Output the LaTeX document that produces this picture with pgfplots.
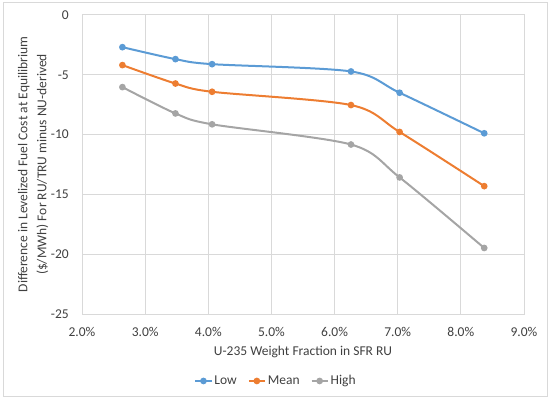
\documentclass[border=0pt]{standalone}
\usepackage{fontspec}
\setmainfont{Carlito}
\usepackage{pgfplots}
\pgfplotsset{compat=1.18}
\definecolor{cLow}{HTML}{5B9BD5}
\definecolor{cMean}{HTML}{ED7D31}
\definecolor{cHigh}{HTML}{A5A5A5}
\definecolor{gridc}{HTML}{D9D9D9}
\definecolor{txt}{HTML}{404040}
\begin{document}
\fontsize{13.5bp}{16bp}\selectfont
\begin{tikzpicture}
\path[use as bounding box] (0,0) rectangle (550bp,400bp);
\draw[gridc, line width=1bp] (3bp,3bp) rectangle (547bp,397bp);
\begin{axis}[
  at={(82bp,86bp)}, anchor=south west,
  scale only axis, width=442bp, height=299bp,
  xmin=2, xmax=9, ymin=-25, ymax=0,
  xtick={2,3,4,5,6,7,8,9},
  xticklabels={2.0\%,3.0\%,4.0\%,5.0\%,6.0\%,7.0\%,8.0\%,9.0\%},
  ytick={-25,-20,-15,-10,-5,0},
  yticklabels={-25,-20,-15,-10,-5,0},
  major tick length=0pt,
  grid=major,
  major grid style={gridc, line width=1bp},
  axis line style={gridc, line width=1bp},
  tick label style={font=\fontsize{13.5bp}{16bp}\selectfont, text=txt},
  xticklabel style={anchor=north, inner sep=0pt, yshift=-13bp},
  yticklabel style={anchor=east, inner sep=0pt, xshift=-13bp},
  legend style={at={(0.439,-0.224)}, anchor=center, draw=none, fill=none,
    legend columns=-1, font=\fontsize{13.5bp}{16bp}\selectfont, text=txt,
    /tikz/every even column/.append style={column sep=9bp}},
  legend cell align=left,
  legend image code/.code={
    \draw[#1, mark repeat=2, mark phase=2] plot coordinates {(0bp,0bp) (8bp,0bp) (16bp,0bp)};
  },
  every axis plot/.append style={line width=2bp, mark=*, mark size=2.3bp, smooth, tension=0.5},
  clip=false,
]
\addplot[cLow, mark options={fill=cLow, draw=cLow}] coordinates {
  (2.64,-2.69) (3.48,-3.69) (4.06,-4.11) (6.26,-4.72) (7.03,-6.50) (8.37,-9.89)};
\addlegendentry{Low}
\addplot[cMean, mark options={fill=cMean, draw=cMean}] coordinates {
  (2.64,-4.19) (3.48,-5.73) (4.06,-6.42) (6.26,-7.53) (7.03,-9.78) (8.37,-14.31)};
\addlegendentry{Mean}
\addplot[cHigh, mark options={fill=cHigh, draw=cHigh}] coordinates {
  (2.64,-6.03) (3.48,-8.23) (4.06,-9.14) (6.26,-10.83) (7.03,-13.58) (8.37,-19.48)};
\addlegendentry{High}
\end{axis}
\node[text=txt, rotate=90, align=center, font=\fontsize{13.5bp}{19bp}\selectfont] at (33bp,235.5bp)
  {Difference in Levelized Fuel Cost at Equilibrium\\(\$/MWh) For RU/TRU minus NU-derived};
\node[text=txt, font=\fontsize{13.5bp}{16bp}\selectfont] at (303bp,48bp) {U-235 Weight Fraction in SFR RU};
\end{tikzpicture}
\end{document}
